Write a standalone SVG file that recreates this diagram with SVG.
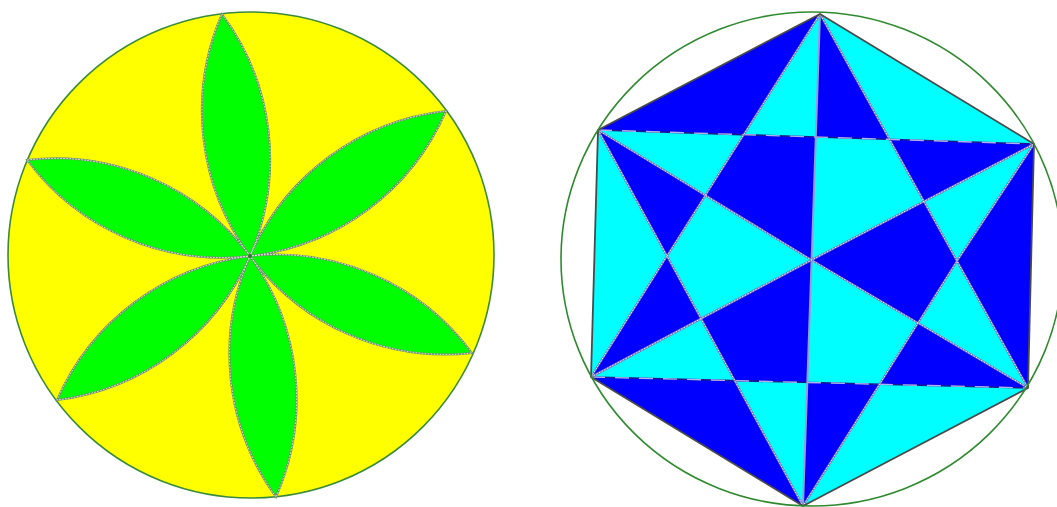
<svg xmlns="http://www.w3.org/2000/svg" width="1057" height="507" viewBox="0 0 1057 507">
<style>
.disc{fill:#ffff00;stroke:#3a8a3a;stroke-width:1.6}
.petal{fill:#00ff00}
.pe1{fill:none;stroke:#6a8f6a;stroke-width:2}
.pe2{fill:none;stroke:#f0f0f0;stroke-width:1;stroke-dasharray:1.5 1.5}
.ring{fill:none;stroke:#2f8a2f;stroke-width:1.6}
.b{fill:#0000ff}
.c{fill:#00ffff}
.edge{fill:none;stroke:#4a4a4a;stroke-width:1.8;stroke-linejoin:round}
.ln1{fill:none;stroke:#7474b8;stroke-width:2}
.ln2{fill:none;stroke:#f2f2ff;stroke-width:1;stroke-dasharray:1.5 1.5}
.hz1{fill:none;stroke:#1a1a90;stroke-width:1.6}
.hz2{fill:none;stroke:#b0b0f0;stroke-width:1.4;stroke-dasharray:14 10}
.vt{fill:none;stroke:#9a9ad8;stroke-width:2}
</style>
<g id="flower">
  <circle class="disc" cx="251" cy="255" r="243"/>
  <g id="petals">
    <path class="petal" d="M250 256 A243 243 0 0 1 222 14 A243 243 0 0 1 250 256Z"/>
    <path class="petal" d="M250 256 A243 243 0 0 1 446 111 A243 243 0 0 1 250 256Z"/>
    <path class="petal" d="M250 256 A243 243 0 0 1 472 353 A243 243 0 0 1 250 256Z"/>
    <path class="petal" d="M250 256 A243 243 0 0 1 276 497 A243 243 0 0 1 250 256Z"/>
    <path class="petal" d="M250 256 A243 243 0 0 1 57 400 A243 243 0 0 1 250 256Z"/>
    <path class="petal" d="M250 256 A243 243 0 0 1 27 160 A243 243 0 0 1 250 256Z"/>
  </g>
  <g id="petal-edges">
    <path class="pe1" d="M250 256 A243 243 0 0 1 222 14 A243 243 0 0 1 250 256 A243 243 0 0 1 446 111 A243 243 0 0 1 250 256 A243 243 0 0 1 472 353 A243 243 0 0 1 250 256 A243 243 0 0 1 276 497 A243 243 0 0 1 250 256 A243 243 0 0 1 57 400 A243 243 0 0 1 250 256 A243 243 0 0 1 27 160 A243 243 0 0 1 250 256"/>
    <path class="pe2" d="M250 256 A243 243 0 0 1 222 14 A243 243 0 0 1 250 256 A243 243 0 0 1 446 111 A243 243 0 0 1 250 256 A243 243 0 0 1 472 353 A243 243 0 0 1 250 256 A243 243 0 0 1 276 497 A243 243 0 0 1 250 256 A243 243 0 0 1 57 400 A243 243 0 0 1 250 256 A243 243 0 0 1 27 160 A243 243 0 0 1 250 256"/>
  </g>
  <circle cx="250" cy="256" r="2" fill="#2f7a2f"/>
</g>
<g id="hexagon">
  <g id="fills">
    <polygon class="b" points="820,14 598,130 743.7,134.7"/>
    <polygon class="b" points="820,14 815.8,137 889.5,139.4"/>
    <polygon class="b" points="598,130 705.4,195.3 667,256"/>
    <polygon class="b" points="743.7,134.7 815.8,137 811.6,260 705.4,195.3"/>
    <polygon class="b" points="667,256 591,377 701.1,318.7"/>
    <polygon class="b" points="701.1,318.7 811.6,260 807.3,382.4 734.8,380.6"/>
    <polygon class="b" points="591,377 734.8,380.6 803,506"/>
    <polygon class="b" points="1034,144 889.5,139.4 924,201.5"/>
    <polygon class="b" points="1034,144 957,261 1028,388"/>
    <polygon class="b" points="957,261 924,201.5 811.6,260 918.1,322.9"/>
    <polygon class="b" points="1028,388 918.1,322.9 879.5,384.3"/>
    <polygon class="b" points="807.3,382.4 879.5,384.3 803,506"/>
    <polygon class="c" points="820,14 743.7,134.7 815.8,137"/>
    <polygon class="c" points="820,14 889.5,139.4 1034,144"/>
    <polygon class="c" points="598,130 743.7,134.7 705.4,195.3"/>
    <polygon class="c" points="598,130 667,256 591,377"/>
    <polygon class="c" points="667,256 705.4,195.3 811.6,260 701.1,318.7"/>
    <polygon class="c" points="591,377 701.1,318.7 734.8,380.6"/>
    <polygon class="c" points="734.8,380.6 807.3,382.4 803,506"/>
    <polygon class="c" points="815.8,137 889.5,139.4 924,201.5 811.6,260"/>
    <polygon class="c" points="1034,144 924,201.5 957,261"/>
    <polygon class="c" points="957,261 1028,388 918.1,322.9"/>
    <polygon class="c" points="918.1,322.9 811.6,260 807.3,382.4 879.5,384.3"/>
    <polygon class="c" points="879.5,384.3 1028,388 803,506"/>
  </g>
  <g id="connectors">
    <path class="hz1" d="M598 130 L1034 144 M591 377 L1028 388"/>
    <path class="hz2" d="M598 130 L1034 144 M591 377 L1028 388"/>
    <path class="vt" d="M820 14 L811.6 260 L803 506"/>
    <path class="ln1" d="M598 130 L811.6 260 L1028 388 M591 377 L811.6 260 L1034 144 M820 14 L667 256 L803 506 L957 261 L820 14 M598 130 L667 256 L591 377 M1034 144 L957 261 L1028 388"/>
    <path class="ln2" d="M598 130 L811.6 260 L1028 388 M591 377 L811.6 260 L1034 144 M820 14 L667 256 L803 506 L957 261 L820 14 M598 130 L667 256 L591 377 M1034 144 L957 261 L1028 388"/>
    <polygon class="edge" points="820,14 1034,144 1028,388 803,506 591,377 598,130"/>
  </g>
  <ellipse class="ring" cx="812" cy="259" rx="251" ry="247"/>
</g>
</svg>
